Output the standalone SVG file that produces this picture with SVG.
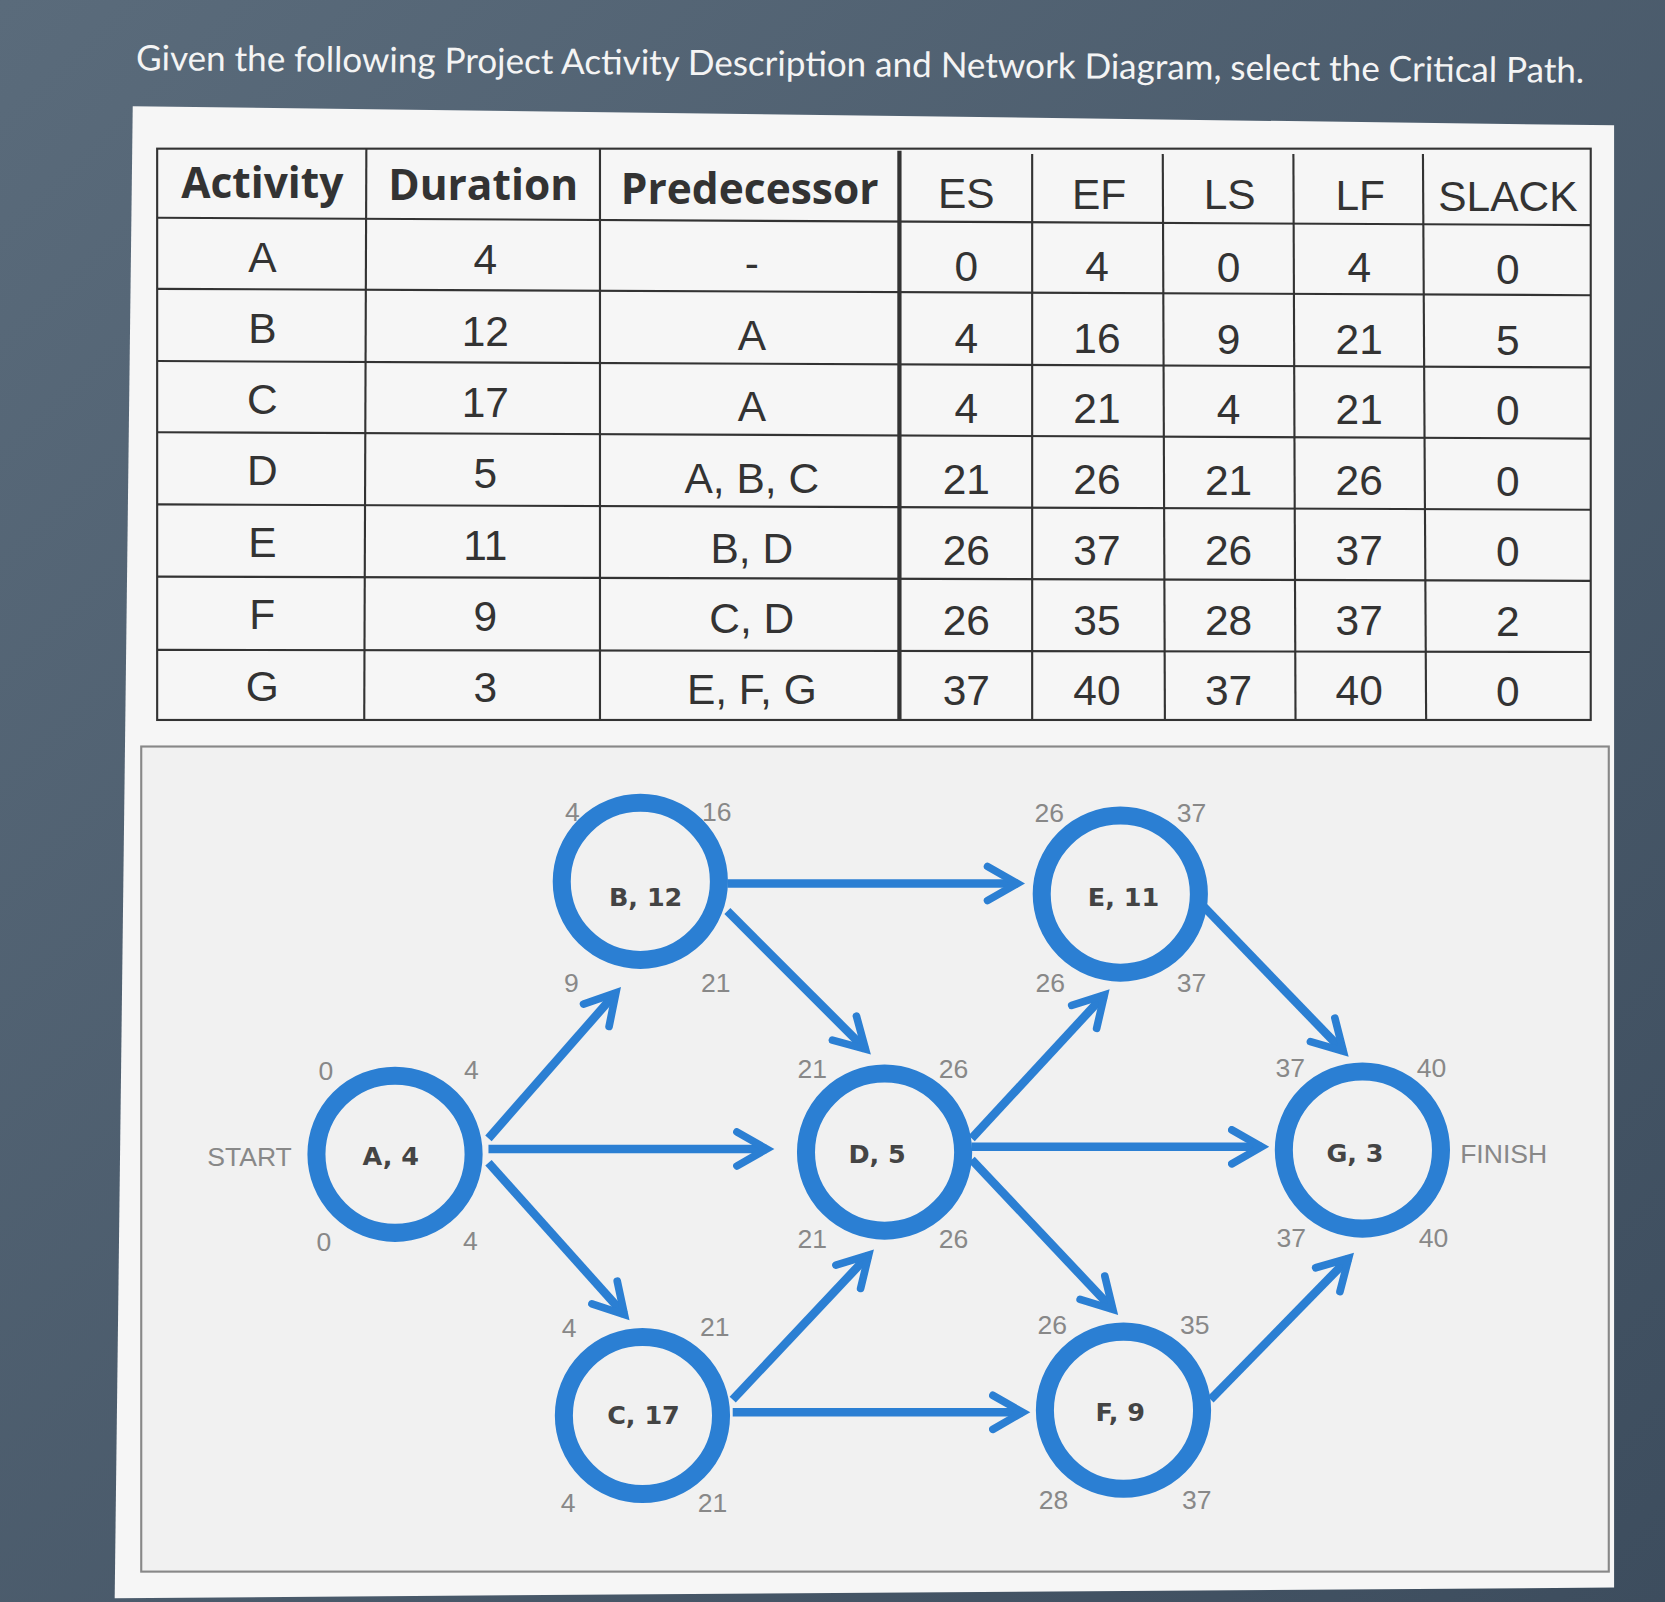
<svg xmlns="http://www.w3.org/2000/svg" width="1665" height="1602" viewBox="0 0 1665 1602">
<defs>
<linearGradient id="bg" x1="0" y1="0" x2="1" y2="1"><stop offset="0" stop-color="#5a6b7b"/><stop offset="1" stop-color="#3d4d5e"/></linearGradient>
<marker id="ah" viewBox="0 0 10 10" refX="8" refY="5" markerWidth="5" markerHeight="5" orient="auto" markerUnits="strokeWidth"><path d="M1,1 L8,5 L1,9" fill="none" stroke="#2b7fd3" stroke-width="1.8" stroke-linecap="round"/></marker>
<style>
.t{font-family:"Liberation Sans",Lato,sans-serif;font-size:40px;fill:#333;text-anchor:middle}
.h{font-family:"Open Sans","DejaVu Sans",sans-serif;font-size:40px;font-weight:bold;fill:#333;text-anchor:middle}
.g{stroke:#333;stroke-width:2;fill:none}
.n{fill:none;stroke:#2b7fd3;stroke-width:17}
.nl{font-family:"DejaVu Sans",sans-serif;font-size:24px;font-weight:bold;fill:#444;text-anchor:middle}
.num{font-family:"Liberation Sans",Lato,sans-serif;font-size:25px;fill:#888;text-anchor:middle}
.c line{stroke:#2b7fd3;stroke-width:8;marker-end:url(#ah)}
</style>
</defs>
<rect width="1665" height="1602" fill="url(#bg)"/>
<g transform="scale(1.0619)">
<text x="810" y="72" font-family="Lato,'Liberation Sans',sans-serif" font-size="33" fill="#f4f4f4" text-anchor="middle" transform="rotate(0.5 810 65)">Given the following Project Activity Description and Network Diagram, select the Critical Path.</text>
<polygon points="125,100 1520,118 1520,1495 108,1505" fill="#f6f6f6"/>
<g id="table">
<rect x="148" y="140" width="1350" height="538" fill="#efefef" class="g"/>
<g class="g">
<line x1="148" y1="205" x2="1498" y2="212"/><line x1="148" y1="272" x2="1498" y2="278"/><line x1="148" y1="340" x2="1498" y2="346"/><line x1="148" y1="407" x2="1498" y2="413"/><line x1="148" y1="475" x2="1498" y2="480"/><line x1="148" y1="543" x2="1498" y2="547"/><line x1="148" y1="612" x2="1498" y2="614"/>
<line x1="345" y1="140" x2="343" y2="678"/><line x1="565" y1="140" x2="565" y2="678"/><line x1="847" y1="142" x2="847" y2="678" stroke-width="4"/><line x1="972" y1="145" x2="972" y2="678"/><line x1="1095" y1="145" x2="1097" y2="678"/><line x1="1218" y1="145" x2="1220" y2="678"/><line x1="1340" y1="145" x2="1343" y2="678"/>
</g>
<text class="h" x="247" y="186">Activity</text><text class="h" x="455" y="188">Duration</text><text class="h" x="706" y="192">Predecessor</text><text class="t" x="910" y="196">ES</text><text class="t" x="1035" y="197">EF</text><text class="t" x="1158" y="197">LS</text><text class="t" x="1281" y="198">LF</text><text class="t" x="1420" y="199">SLACK</text>
<g class="t">
<text x="247" y="256">A</text><text x="457" y="258">4</text><text x="708" y="262">-</text><text x="910" y="265">0</text><text x="1033" y="265">4</text><text x="1157" y="266">0</text><text x="1280" y="266">4</text><text x="1420" y="267">0</text>
<text x="247" y="323">B</text><text x="457" y="326">12</text><text x="708" y="330">A</text><text x="910" y="332">4</text><text x="1033" y="332">16</text><text x="1157" y="333">9</text><text x="1280" y="333">21</text><text x="1420" y="334">5</text>
<text x="247" y="390">C</text><text x="457" y="393">17</text><text x="708" y="396">A</text><text x="910" y="398">4</text><text x="1033" y="398">21</text><text x="1157" y="399">4</text><text x="1280" y="399">21</text><text x="1420" y="400">0</text>
<text x="247" y="457">D</text><text x="457" y="460">5</text><text x="708" y="464">A, B, C</text><text x="910" y="465">21</text><text x="1033" y="465">26</text><text x="1157" y="466">21</text><text x="1280" y="466">26</text><text x="1420" y="467">0</text>
<text x="247" y="525">E</text><text x="457" y="527">11</text><text x="708" y="530">B, D</text><text x="910" y="532">26</text><text x="1033" y="532">37</text><text x="1157" y="532">26</text><text x="1280" y="532">37</text><text x="1420" y="533">0</text>
<text x="247" y="592">F</text><text x="457" y="594">9</text><text x="708" y="596">C, D</text><text x="910" y="598">26</text><text x="1033" y="598">35</text><text x="1157" y="598">28</text><text x="1280" y="598">37</text><text x="1420" y="599">2</text>
<text x="247" y="660">G</text><text x="457" y="661">3</text><text x="708" y="663">E, F, G</text><text x="910" y="664">37</text><text x="1033" y="664">40</text><text x="1157" y="664">37</text><text x="1280" y="664">40</text><text x="1420" y="665">0</text>
</g>
</g>
<rect x="133" y="703" width="1382" height="777" fill="#f1f1f1" stroke="#888" stroke-width="2"/>
<g class="c" id="connectors">
<line x1="460" y1="1072" x2="580" y2="935"/><line x1="460" y1="1082" x2="722" y2="1082"/><line x1="460" y1="1095" x2="588" y2="1238"/>
<line x1="685" y1="832" x2="958" y2="832"/><line x1="685" y1="858" x2="815" y2="988"/>
<line x1="690" y1="1318" x2="818" y2="1182"/><line x1="690" y1="1330" x2="963" y2="1330"/>
<line x1="915" y1="1072" x2="1040" y2="937"/><line x1="915" y1="1080" x2="1188" y2="1080"/><line x1="915" y1="1092" x2="1048" y2="1233"/>
<line x1="1130" y1="850" x2="1265" y2="990"/><line x1="1140" y1="1318" x2="1270" y2="1185"/>
</g>
<g id="A"><circle class="n" cx="372" cy="1087" r="74"/><text class="nl" x="368" y="1097">A, 4</text></g>
<g id="B"><circle class="n" cx="603" cy="830" r="74"/><text class="nl" x="608" y="853">B, 12</text></g>
<g id="C"><circle class="n" cx="605" cy="1333" r="74"/><text class="nl" x="606" y="1341">C, 17</text></g>
<g id="D"><circle class="n" cx="833" cy="1085" r="74"/><text class="nl" x="826" y="1095">D, 5</text></g>
<g id="E"><circle class="n" cx="1055" cy="842" r="74"/><text class="nl" x="1058" y="853">E, 11</text></g>
<g id="F"><circle class="n" cx="1058" cy="1328" r="74"/><text class="nl" x="1055" y="1338">F, 9</text></g>
<g id="G"><circle class="n" cx="1283" cy="1083" r="74"/><text class="nl" x="1276" y="1094">G, 3</text></g>
<g class="num">
<text x="235" y="1098">START</text><text x="1416" y="1095">FINISH</text>
<text x="307" y="1017">0</text><text x="444" y="1016">4</text><text x="305" y="1178">0</text><text x="443" y="1177">4</text>
<text x="539" y="773">4</text><text x="675" y="773">16</text><text x="538" y="934">9</text><text x="674" y="934">21</text>
<text x="536" y="1259">4</text><text x="673" y="1258">21</text><text x="535" y="1424">4</text><text x="671" y="1424">21</text>
<text x="765" y="1015">21</text><text x="898" y="1015">26</text><text x="765" y="1175">21</text><text x="898" y="1175">26</text>
<text x="988" y="774">26</text><text x="1122" y="774">37</text><text x="989" y="934">26</text><text x="1122" y="934">37</text>
<text x="991" y="1256">26</text><text x="1125" y="1256">35</text><text x="992" y="1421">28</text><text x="1127" y="1421">37</text>
<text x="1215" y="1014">37</text><text x="1348" y="1014">40</text><text x="1216" y="1174">37</text><text x="1350" y="1174">40</text>
</g>
</g>
</svg>
